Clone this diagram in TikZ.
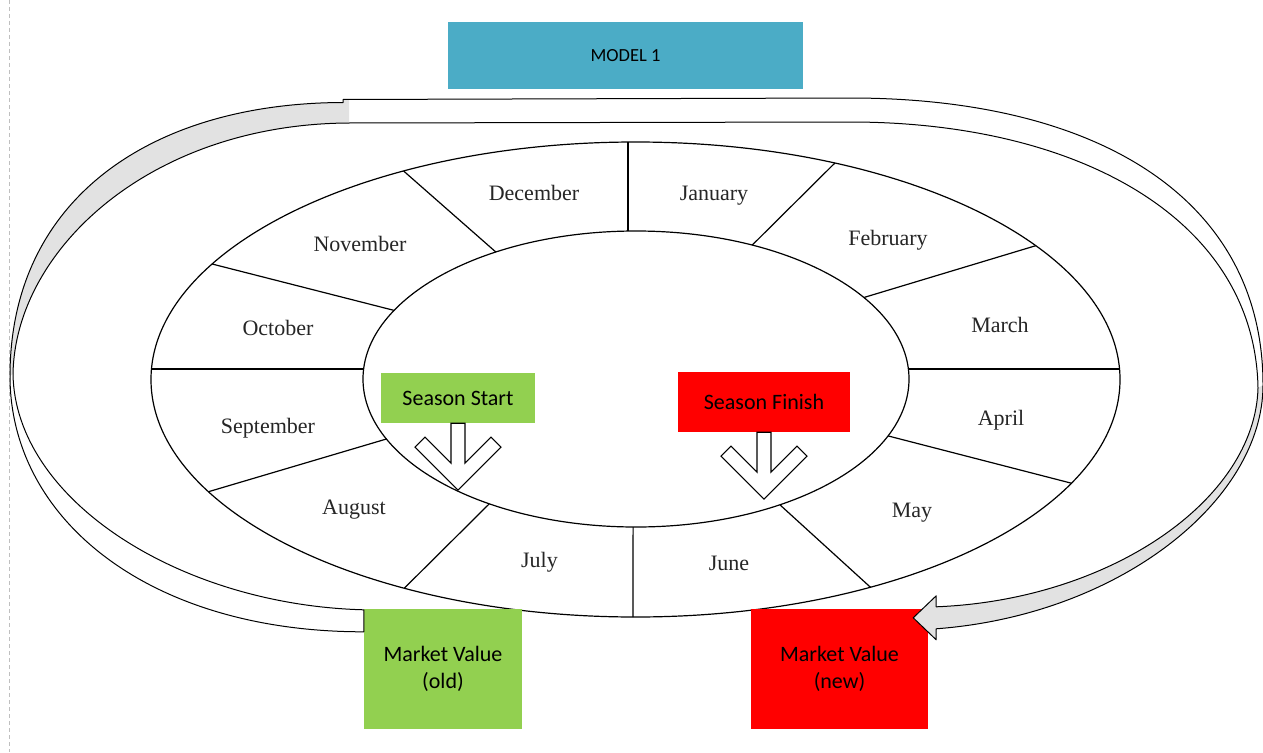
\documentclass[tikz,border=0pt]{standalone}
\usepackage{fontspec}
\newfontfamily\calib{Carlito}
\newfontfamily\serifm{Liberation Serif}
\usetikzlibrary{calc}
\definecolor{teal1}{RGB}{75,172,198}
\definecolor{green1}{RGB}{146,208,80}
\definecolor{red1}{RGB}{255,0,0}
\definecolor{bandgray}{RGB}{226,226,226}
\newcommand\hollowdown[1]{%
  \draw[hollow] ($(#1)+(-7,0)$) -- ($(#1)+(-7,40)$) -- ($(#1)+(-33,14)$) -- ($(#1)+(-43,24)$)
    -- ($(#1)+(0,67)$) -- ($(#1)+(43,24)$) -- ($(#1)+(33,14)$) -- ($(#1)+(7,40)$) -- ($(#1)+(7,0)$) -- cycle;}
\begin{document}
\begin{tikzpicture}[x=1pt,y=-1pt,
  ring/.style={line width=1.2pt, draw=black},
  month/.style={font=\serifm\fontsize{22}{26}\selectfont, text=black!85, inner sep=0pt, anchor=base},
  box/.style={draw=none, inner sep=0pt, align=center, font=\calib\fontsize{22}{27}\selectfont, text=black},
  hollow/.style={draw=black, fill=white, line width=1.1pt, line join=miter},
  bandline/.style={draw=black, line width=1pt, line join=round},
]
\useasboundingbox (0,0) rectangle (1263,752);
\fill[white] (0,0) rectangle (1263,752);
\draw[black!25, line width=0.6pt, dash pattern=on 4pt off 3pt] (9.5,0) -- (9.5,752);

% month ring
\draw[ring] (635.5,379.5) ellipse [x radius=484.5pt, y radius=237.5pt];
\draw[ring] (636,379) ellipse [x radius=273pt, y radius=148pt];
\draw[ring] (627.9,142.0) -- (627.9,231.1);
\draw[ring] (403.6,171.0) -- (495.8,252.0);
\draw[ring] (834.9,163.0) -- (752.2,245.1);
\draw[ring] (212.1,264.0) -- (394.1,310.4);
\draw[ring] (1035.7,245.7) -- (863.9,297.5);
\draw[ring] (151.5,369) -- (363.6,369);
\draw[ring] (1119.5,369) -- (908.4,369);
\draw[ring] (208.5,491.7) -- (386.4,439.0);
\draw[ring] (1071.4,483.2) -- (888.0,435.9);
\draw[ring] (404.3,588.2) -- (489.3,503.8);
\draw[ring] (870.4,587.2) -- (779.9,504.8);
\draw[ring] (633.0,617.0) -- (633.1,527.0);

% month labels
\node[month] (dec) at (534,200.5) {December};
\node[month] (jan) at (714,200) {January};
\node[month] (feb) at (888,245) {February};
\node[month] (nov) at (360,251.5) {November};
\node[month] (mar) at (1000,332) {March};
\node[month] (oct) at (278,335) {October};
\node[month] (apr) at (1001,425) {April};
\node[month] (sep) at (268,433) {September};
\node[month] (may) at (912,517) {May};
\node[month] (aug) at (354,514) {August};
\node[month] (jul) at (539.5,567) {July};
\node[month] (jun) at (729,570) {June};

% boxes
\node[box, fill=teal1, minimum width=355pt, minimum height=67pt,
      font=\calib\fontsize{18.5}{22}\selectfont] (model) at (625.5,55.5) {MODEL 1};
\node[box, fill=green1, minimum width=154pt, minimum height=50pt] (ss) at (458,398) {Season Start};
\node[box, fill=red1, minimum width=172pt, minimum height=60pt] (sf) at (764,402) {Season Finish};
\node[box, fill=green1, minimum width=158pt, minimum height=120pt] (mvo) at (443,669) {Market Value\\(old)};
\node[box, fill=red1, minimum width=177pt, minimum height=120pt] (mvn) at (839.5,669) {Market Value\\(new)};

% hollow down arrows
\hollowdown{ss.south}
\hollowdown{sf.south}

% big curved arrow from Market Value (old) to Market Value (new)
\coordinate (tailtop) at ($(mvo.north west)+(0,1)$);
\coordinate (tailbot) at ($(mvo.north west)+(0,23)$);
\coordinate (tip) at ($(mvn.north east)+(-15,9)$);
\coordinate (hs1) at ($(tip)+(23,11)$);
\coordinate (hc1) at ($(tip)+(23,22)$);
\coordinate (hc2) at ($(tip)+(23,-22)$);
\coordinate (hs2) at ($(tip)+(23,-11)$);

\fill[white] (tailbot) .. controls (150,632) and (10,520) .. (10,376)
  .. controls (10,200) and (150,103) .. (343,102.5)
  -- (343,99.5) -- (850,98)
  .. controls (1100,98) and (1263,200) .. (1263,385)
  .. controls (1263,500) and (1120,615) .. (hs1)
  -- (hc1) -- (tip) -- (hc2) -- (hs2)
  .. controls (1110,600) and (1255,500) .. (1258,388)
  .. controls (1255,220) and (1080,122) .. (850,122)
  -- (349,123)
  .. controls (150,124) and (15,250) .. (13,374)
  .. controls (15,500) and (180,605) .. (tailtop)
  -- cycle;
\fill[bandgray] (10,376) .. controls (10,200) and (150,103) .. (343,102.5)
  -- (343,99.5) -- (349,99.5) -- (349,123)
  .. controls (150,124) and (15,250) .. (13,374) -- cycle;
\fill[bandgray] (1263,385) .. controls (1263,500) and (1120,615) .. (hs1)
  -- (hc1) -- (tip) -- (hc2) -- (hs2)
  .. controls (1110,600) and (1255,500) .. (1258,388) -- cycle;
\draw[bandline] (tailbot) .. controls (150,632) and (10,520) .. (10,376)
  .. controls (10,200) and (150,103) .. (343,102.5)
  -- (343,99.5) -- (850,98)
  .. controls (1100,98) and (1263,200) .. (1263,385)
  .. controls (1263,500) and (1120,615) .. (hs1)
  -- (hc1) -- (tip) -- (hc2) -- (hs2)
  .. controls (1110,600) and (1255,500) .. (1258,388)
  .. controls (1255,220) and (1080,122) .. (850,122)
  -- (349,123)
  .. controls (150,124) and (15,250) .. (13,374)
  .. controls (15,500) and (180,605) .. (tailtop)
  -- cycle;
\end{tikzpicture}
\end{document}
